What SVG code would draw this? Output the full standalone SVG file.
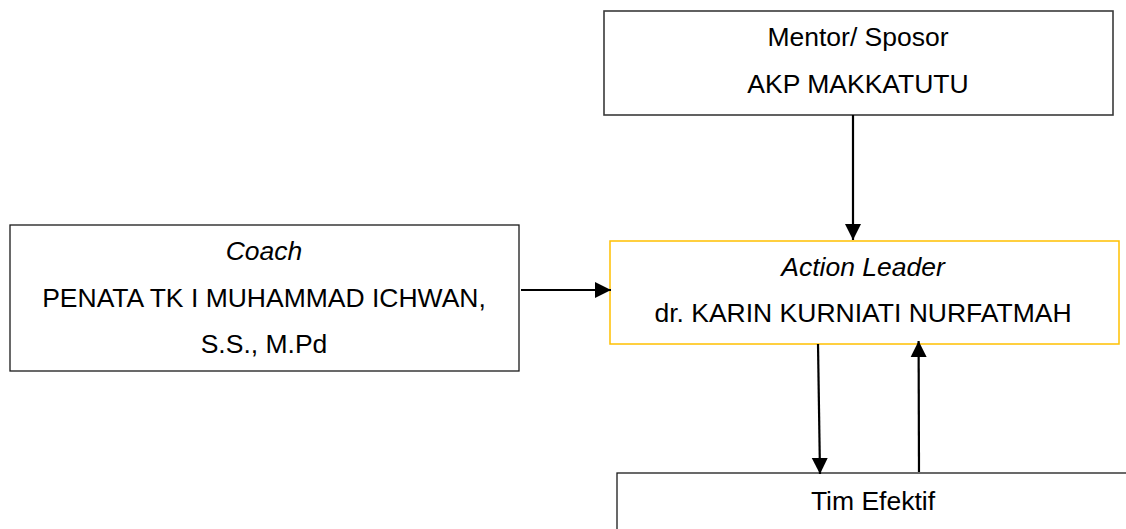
<svg xmlns="http://www.w3.org/2000/svg" width="1126" height="529" viewBox="0 0 1126 529">
  <style>
    .box { fill: #ffffff; stroke: #1a1a1a; stroke-width: 1.3; }
    .box-gold { fill: #ffffff; stroke: #ffc000; stroke-width: 1.5; }
    .label { font-family: "Liberation Sans", Arial, sans-serif; font-size: 26.5px; fill: #000000; text-anchor: middle; }
    .em { font-style: italic; }
    .link { stroke: #000000; stroke-width: 2.2; fill: none; }
  </style>
  <defs>
    <marker id="arrow" markerUnits="userSpaceOnUse" markerWidth="17" markerHeight="17" viewBox="0 0 17 17" refX="16" refY="8.5" orient="auto">
      <path d="M0,0.5 L16,8.5 L0,16.5 Z" fill="#000000"/>
    </marker>
  </defs>

  <rect width="1126" height="529" fill="#ffffff"/>

  <!-- Mentor / sponsor -->
  <g id="mentor">
    <rect class="box" x="604" y="11" width="509" height="104" style="stroke:#3a3a3a;stroke-width:1.6"/>
    <text class="label" x="858" y="46">Mentor/ Sposor</text>
    <text class="label" x="858" y="93">AKP MAKKATUTU</text>
  </g>

  <!-- Coach -->
  <g id="coach">
    <rect class="box" x="10" y="225" width="509" height="146"/>
    <text class="label em" x="264" y="260">Coach</text>
    <text class="label" x="264" y="307">PENATA TK I MUHAMMAD ICHWAN,</text>
    <text class="label" x="264" y="353">S.S., M.Pd</text>
  </g>

  <!-- Action leader -->
  <g id="action-leader">
    <rect class="box-gold" x="610" y="241" width="509" height="103"/>
    <text class="label em" x="863" y="276">Action Leader</text>
    <text class="label" x="863" y="322">dr. KARIN KURNIATI NURFATMAH</text>
  </g>

  <!-- Effective team -->
  <g id="tim-efektif">
    <rect class="box" x="617" y="473" width="530" height="80"/>
    <text class="label" x="873" y="510">Tim Efektif</text>
  </g>

  <!-- Connectors -->
  <g id="connectors">
    <line class="link" x1="853" y1="115" x2="853" y2="240" marker-end="url(#arrow)"/>
    <line class="link" x1="521" y1="290" x2="611" y2="290" marker-end="url(#arrow)"/>
    <line class="link" x1="818" y1="344" x2="820" y2="474" marker-end="url(#arrow)"/>
    <line class="link" x1="919" y1="472" x2="918.6" y2="341" marker-end="url(#arrow)"/>
  </g>
</svg>
